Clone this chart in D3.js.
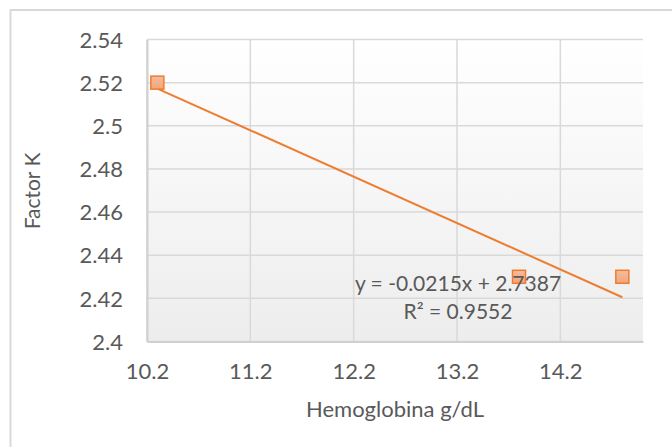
<!DOCTYPE html>
<html>
<head>
<meta charset="utf-8">
<script src="https://cdn.jsdelivr.net/npm/d3@7"></script>
<style>
  html, body { margin: 0; padding: 0; background: #ffffff; }
  svg { display: block; }
  text { font-family: Lato, "Open Sans", sans-serif; fill: #595959; }
</style>
</head>
<body>
<svg id="chart" width="672" height="447"></svg>
<script>
// Hemoglobin (g/dL) vs. factor K measurements
const hemoglobina = [10.3, 13.8, 14.8];
const factorK = [2.52, 2.43, 2.43];

// Axis ticks and their printed labels
const xTicks = [10.2, 11.2, 12.2, 13.2, 14.2];
const xTickLabels = ["10.2", "11.2", "12.2", "13.2", "14.2"];
const yTicks = [2.40, 2.42, 2.44, 2.46, 2.48, 2.50, 2.52, 2.54];
const yTickLabels = ["2.4", "2.42", "2.44", "2.46", "2.48", "2.5", "2.52", "2.54"];

// Axis ranges
const xDomain = [10.2, 15.0];
const yDomain = [2.40, 2.54];

// Titles and trendline annotation
const xTitle = "Hemoglobina g/dL";
const yTitle = "Factor K";
const trendSlope = -0.0215;
const trendIntercept = 2.7387;
const trendR2 = "0.9552";

const svg = d3.select("#chart");
const W = 672, H = 447;
const margin = { left: 147, top: 39.5, right: 29, bottom: 105.5 };
const pw = W - margin.left - margin.right;
const ph = H - margin.top - margin.bottom;

// Chart frame
svg.append("rect")
  .attr("x", 10.5).attr("y", 10).attr("width", W + 20).attr("height", H + 20)
  .attr("fill", "#ffffff").attr("stroke", "#d9d9d9").attr("stroke-width", 2);

const defs = svg.append("defs");
const bg = defs.append("linearGradient").attr("id", "plotBg")
  .attr("x1", 0).attr("y1", 0).attr("x2", 0).attr("y2", 1);
bg.append("stop").attr("offset", "0%").attr("stop-color", "#ffffff");
bg.append("stop").attr("offset", "100%").attr("stop-color", "#ededed");

const mk = defs.append("linearGradient").attr("id", "markerFill")
  .attr("x1", 0).attr("y1", 0).attr("x2", 0).attr("y2", 1);
mk.append("stop").attr("offset", "0%").attr("stop-color", "#f7bc9c");
mk.append("stop").attr("offset", "100%").attr("stop-color", "#f3a47c");

const g = svg.append("g").attr("transform", `translate(${margin.left},${margin.top})`);

const x = d3.scaleLinear().domain(xDomain).range([0, pw]);
const y = d3.scaleLinear().domain(yDomain).range([ph, 0]);

g.append("rect").attr("width", pw).attr("height", ph).attr("fill", "url(#plotBg)");

// Gridlines
g.append("g").selectAll("line").data(yTicks).join("line")
  .attr("x1", 0).attr("x2", pw)
  .attr("y1", d => y(d)).attr("y2", d => y(d))
  .attr("stroke", "#d9d9d9").attr("stroke-width", 1.5);
g.append("g").selectAll("line").data(xTicks).join("line")
  .attr("x1", d => x(d)).attr("x2", d => x(d))
  .attr("y1", 0).attr("y2", ph)
  .attr("stroke", "#d9d9d9").attr("stroke-width", 1.5);

// Axes
const xAxis = d3.axisBottom(x).tickValues(xTicks)
  .tickFormat((d, i) => xTickLabels[i]).tickSize(0).tickPadding(0);
const xg = g.append("g").attr("transform", `translate(0,${ph})`).call(xAxis);
xg.select(".domain").attr("stroke", "#d0d0d0").attr("stroke-width", 2);
xg.selectAll("text").attr("font-size", 22).attr("dy", null).attr("y", 37)
  .style("font-family", "Lato, sans-serif").attr("fill", "#595959");

const yAxis = d3.axisLeft(y).tickValues(yTicks)
  .tickFormat((d, i) => yTickLabels[i]).tickSize(0).tickPadding(24);
const yg = g.append("g").call(yAxis);
yg.select(".domain").attr("stroke", "#d0d0d0").attr("stroke-width", 2);
yg.selectAll("text").attr("font-size", 22).attr("dy", "0.35em")
  .style("font-family", "Lato, sans-serif").attr("fill", "#595959");

// Linear trendline across the data range
const xMin = d3.min(hemoglobina), xMax = d3.max(hemoglobina);
g.append("line")
  .attr("x1", x(xMin)).attr("y1", y(trendSlope * xMin + trendIntercept))
  .attr("x2", x(xMax)).attr("y2", y(trendSlope * xMax + trendIntercept))
  .attr("stroke", "#ed7d31").attr("stroke-width", 2);

// Data markers
const ms = 13;
g.append("g").selectAll("rect").data(hemoglobina).join("rect")
  .attr("x", d => x(d) - ms / 2)
  .attr("y", (d, i) => y(factorK[i]) - ms / 2)
  .attr("width", ms).attr("height", ms)
  .attr("fill", "url(#markerFill)")
  .attr("stroke", "#ed7d31").attr("stroke-width", 1.5);

// Trendline equation
const eq = svg.append("text").attr("x", 458).attr("text-anchor", "middle").attr("font-size", 21);
eq.append("tspan").attr("x", 458).attr("y", 291)
  .text(`y = ${trendSlope}x + ${trendIntercept}`);
eq.append("tspan").attr("x", 458).attr("y", 319)
  .text(`R² = ${trendR2}`);

// Axis titles
svg.append("text")
  .attr("x", 395).attr("y", 417)
  .attr("text-anchor", "middle").attr("font-size", 22)
  .text(xTitle);
svg.append("text")
  .attr("transform", `translate(40,191) rotate(-90)`)
  .attr("text-anchor", "middle").attr("font-size", 21)
  .text(yTitle);
</script>
</body>
</html>
